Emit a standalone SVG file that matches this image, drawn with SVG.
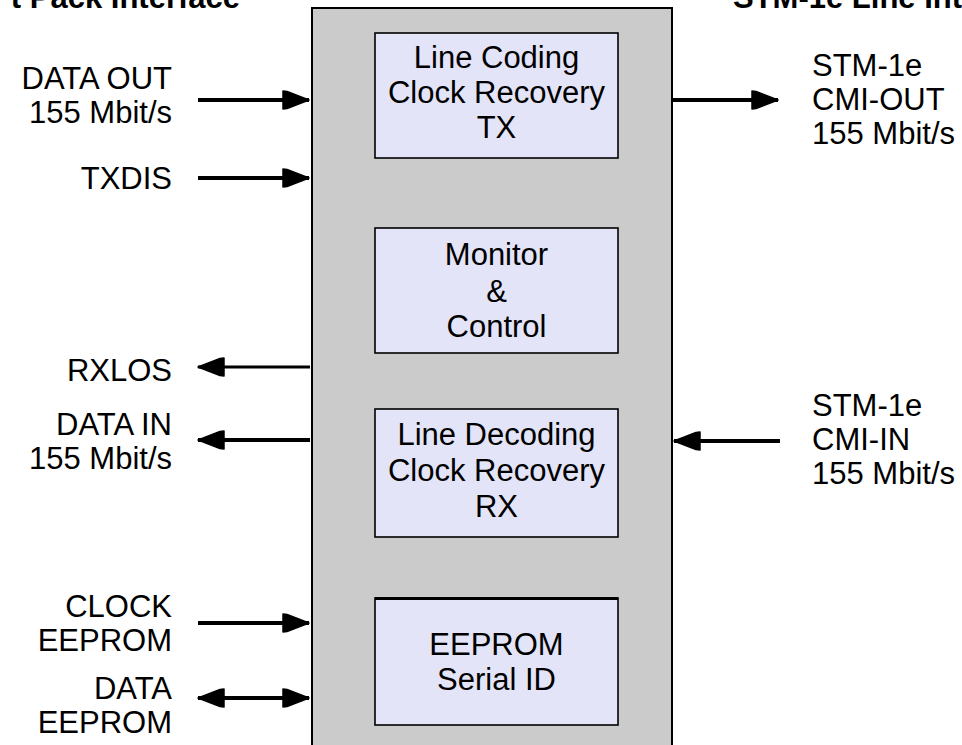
<svg xmlns="http://www.w3.org/2000/svg" width="962" height="745" viewBox="0 0 962 745">
<style>
text{font-family:"Liberation Sans",Arial,sans-serif;font-size:31px;fill:#000}
.t{font-weight:bold}
.l{text-anchor:end}
.c{text-anchor:middle}
.box{fill:#e4e4f8;stroke:#000;stroke-width:1.6}
.w{stroke:#000;stroke-width:4;fill:none}
.n{stroke:#000;stroke-width:3;fill:none}
</style>
<defs>
<marker id="ah" markerUnits="userSpaceOnUse" markerWidth="30" markerHeight="22" refX="28" refY="11" orient="auto-start-reverse" viewBox="0 0 30 22">
<path d="M2,2 L6,2.5 L28,11 L6,19.5 L2,20 z" fill="#000" stroke="#000" stroke-width="1.5" stroke-linejoin="round"/>
</marker>
</defs>
<rect width="962" height="745" fill="#fff"/>
<text class="t l" x="240" y="8">t Pack Interface</text>
<text class="t" x="733" y="8">STM-1e Line Interface</text>
<g id="module"><rect x="312" y="8" width="360" height="745" fill="#cbcbcb" stroke="#000" stroke-width="2"/></g>
<g id="tx"><rect class="box" x="375" y="33" width="243" height="125"/>
<text class="c" x="496.5" y="68">Line Coding</text><text class="c" x="496.5" y="103">Clock Recovery</text><text class="c" x="496.5" y="138">TX</text></g>
<g id="mon"><rect class="box" x="375" y="228" width="243" height="125"/>
<text class="c" x="496.5" y="265">Monitor</text><text class="c" x="496.5" y="302">&amp;</text><text class="c" x="496.5" y="337">Control</text></g>
<g id="rx"><rect class="box" x="375" y="409" width="243" height="128"/>
<text class="c" x="496.5" y="445">Line Decoding</text><text class="c" x="496.5" y="481">Clock Recovery</text><text class="c" x="496.5" y="517">RX</text></g>
<g id="eeprom"><rect class="box" x="375" y="598" width="243" height="127"/>
<line x1="375" y1="598.5" x2="618" y2="598.5" stroke="#000" stroke-width="3"/>
<text class="c" x="496.5" y="655">EEPROM</text><text class="c" x="496.5" y="690">Serial ID</text></g>
<g id="labels-left">
<text class="l" x="172" y="89">DATA OUT</text><text class="l" x="172" y="123">155 Mbit/s</text>
<text class="l" x="172" y="189">TXDIS</text>
<text class="l" x="172" y="381">RXLOS</text>
<text class="l" x="172" y="435">DATA IN</text><text class="l" x="172" y="469">155 Mbit/s</text>
<text class="l" x="172" y="617">CLOCK</text><text class="l" x="172" y="651">EEPROM</text>
<text class="l" x="172" y="699">DATA</text><text class="l" x="172" y="733">EEPROM</text>
</g>
<g id="labels-right">
<text x="812" y="76">STM-1e</text><text x="812" y="110">CMI-OUT</text><text x="812" y="144">155 Mbit/s</text>
<text x="812" y="416">STM-1e</text><text x="812" y="450">CMI-IN</text><text x="812" y="484">155 Mbit/s</text>
</g>
<g id="connectors">
<line class="w" x1="198" y1="100" x2="309" y2="100" marker-end="url(#ah)"/>
<line class="w" x1="198" y1="178" x2="309" y2="178" marker-end="url(#ah)"/>
<line class="w" x1="673" y1="100" x2="778" y2="100" marker-end="url(#ah)"/>
<line class="n" x1="310" y1="367" x2="198" y2="367" marker-end="url(#ah)"/>
<line class="w" x1="310" y1="440" x2="198" y2="440" marker-end="url(#ah)"/>
<line class="w" x1="780" y1="441" x2="674" y2="441" marker-end="url(#ah)"/>
<line class="w" x1="198" y1="623" x2="309" y2="623" marker-end="url(#ah)"/>
<line class="w" x1="198" y1="698" x2="309" y2="698" marker-start="url(#ah)" marker-end="url(#ah)"/>
</g>
</svg>
